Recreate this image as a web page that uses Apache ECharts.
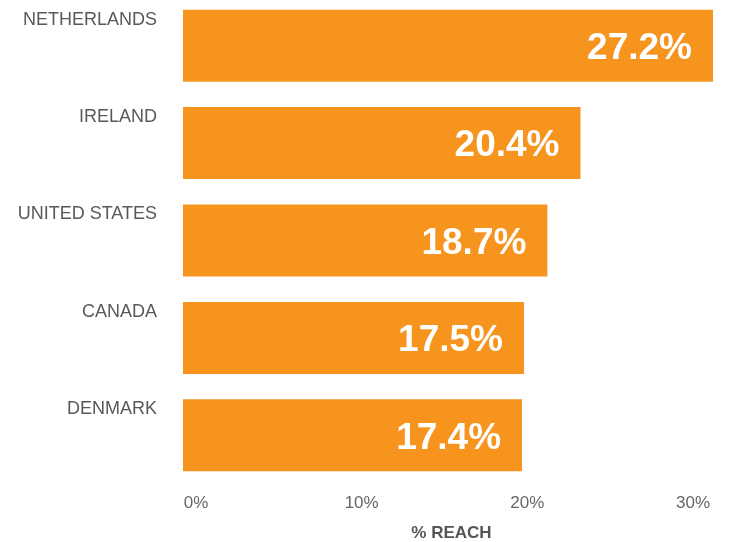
<!DOCTYPE html>
<html>
<head>
<meta charset="utf-8">
<script src="https://cdn.jsdelivr.net/npm/echarts@6/dist/echarts.min.js"></script>
<style>
  html, body { margin: 0; padding: 0; background: #fff; }
  #chart { width: 731px; height: 542px; }
</style>
</head>
<body>
<div id="chart"></div>
<script>
var countries = ['NETHERLANDS', 'IRELAND', 'UNITED STATES', 'CANADA', 'DENMARK'];
var reach = [27.2, 20.4, 18.7, 17.5, 17.4];
var tickValues = [0, 10, 20, 30];

var font = '"Liberation Sans", Arial, Helvetica, sans-serif';
var orange = '#f7941e';

var option = {
    backgroundColor: '#fff',
    animation: false,
    grid: [
        // bars
        { left: 183, right: 18, top: -3, height: 487, outerBoundsMode: 'none' },
        // the % axis underneath (drawn on its own scale, like the original)
        { left: 196, right: 38, top: 487, height: 1, outerBoundsMode: 'none' }
    ],
    xAxis: [
        {
            gridIndex: 0,
            type: 'value',
            min: 0,
            max: 27.2,
            show: false
        },
        {
            gridIndex: 1,
            type: 'value',
            min: tickValues[0],
            max: tickValues[tickValues.length - 1],
            interval: 10,
            axisLine: { show: false },
            axisTick: { show: false },
            splitLine: { show: false },
            axisLabel: {
                margin: 7,
                fontSize: 17,
                fontFamily: font,
                color: '#666',
                formatter: '{value}%'
            },
            name: '% REACH',
            nameLocation: 'middle',
            nameGap: 37,
            nameTextStyle: {
                fontSize: 17,
                fontWeight: 'bold',
                fontFamily: font,
                color: '#555',
                padding: [0, 0, 0, 14]
            }
        }
    ],
    yAxis: [
        {
            gridIndex: 0,
            type: 'category',
            inverse: true,
            data: countries,
            axisLine: { show: false },
            axisTick: { show: false },
            splitLine: { show: false },
            axisLabel: {
                margin: 26,
                fontSize: 18,
                lineHeight: 18,
                fontFamily: font,
                color: '#595959',
                verticalAlign: 'bottom',
                padding: [0, 0, 17, 0]
            }
        },
        {
            gridIndex: 1,
            type: 'value',
            show: false
        }
    ],
    series: [
        {
            type: 'bar',
            xAxisIndex: 0,
            yAxisIndex: 0,
            data: reach,
            barWidth: 72,
            itemStyle: { color: orange },
            label: {
                show: true,
                position: 'insideRight',
                distance: 21,
                offset: [0, 3],
                color: '#fff',
                fontSize: 37,
                fontWeight: 'bold',
                fontFamily: font,
                formatter: '{c}%'
            }
        }
    ]
};

var myChart = echarts.init(document.getElementById('chart'));
myChart.setOption(option);
</script>
</body>
</html>
